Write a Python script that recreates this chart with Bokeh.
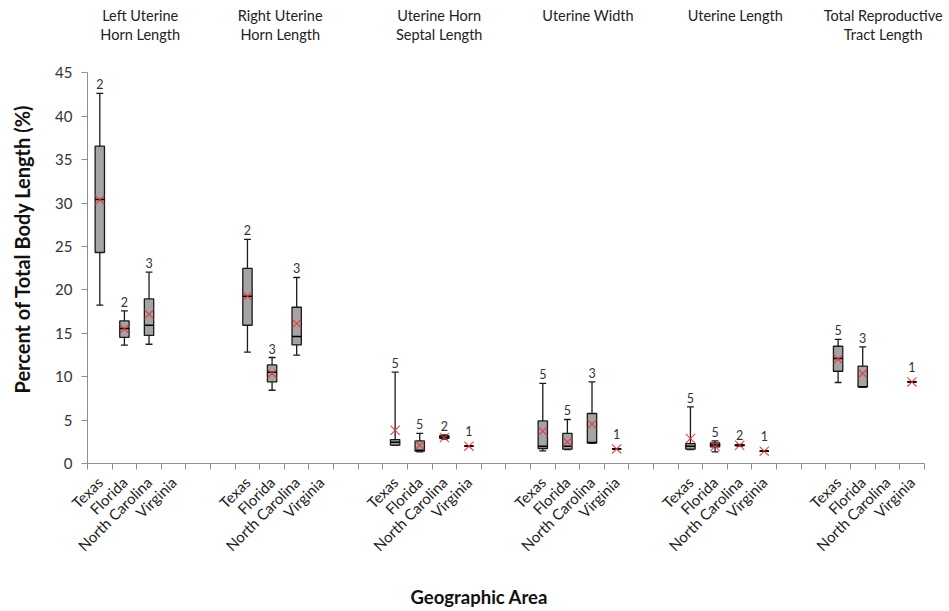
import math
from bokeh.plotting import figure
from bokeh.models import ColumnDataSource, FixedTicker, Label, LabelSet, Title
from bokeh.core.properties import value
from bokeh.embed import file_html
from bokeh.resources import INLINE

nan = float("nan")

regions = ["Texas", "Florida", "North Carolina", "Virginia"]
measure_line1 = ["Left Uterine", "Right Uterine", "Uterine Horn",
                 "Uterine Width", "Uterine Length", "Total Reproductive"]
measure_line2 = ["Horn Length", "Horn Length", "Septal Length",
                 "", "", "Tract Length"]

whisker_low = [
    [18.24, 13.63, 13.74, nan],
    [12.82, 8.44, 12.48, nan],
    [2.10, 1.35, 2.80, 2.00],
    [1.45, 1.60, 2.35, 1.68],
    [1.60, 1.34, 2.00, 1.42],
    [9.33, 8.80, nan, 9.40],
]
q1 = [
    [24.31, 14.52, 14.75, nan],
    [15.93, 9.40, 13.66, nan],
    [2.11, 1.42, 2.90, 2.00],
    [1.73, 1.65, 2.37, 1.68],
    [1.65, 1.91, 2.05, 1.42],
    [10.63, 8.82, nan, 9.40],
]
median = [
    [30.41, 15.55, 15.93, nan],
    [19.27, 10.52, 14.63, nan],
    [2.45, 1.53, 3.05, 2.00],
    [1.99, 1.99, 2.40, 1.68],
    [1.99, 2.14, 2.10, 1.42],
    [12.10, 8.85, nan, 9.40],
]
q3 = [
    [36.56, 16.43, 18.96, nan],
    [22.47, 11.36, 18.00, nan],
    [2.76, 2.60, 3.20, 2.00],
    [4.91, 3.46, 5.76, 1.68],
    [2.30, 2.37, 2.15, 1.42],
    [13.51, 11.21, nan, 9.40],
]
whisker_high = [
    [42.63, 17.58, 22.04, nan],
    [25.81, 12.21, 21.43, nan],
    [10.52, 3.46, 3.30, 2.00],
    [9.22, 5.07, 9.40, 1.68],
    [6.52, 2.60, 2.20, 1.42],
    [14.29, 13.43, nan, 9.40],
]
mean = [
    [30.35, 15.50, 17.20, nan],
    [19.27, 10.37, 16.13, nan],
    [3.84, 2.11, 3.00, 2.00],
    [3.72, 2.49, 4.53, 1.68],
    [2.88, 1.99, 2.10, 1.42],
    [12.00, 10.37, nan, 9.40],
]
sample_n = [
    [2, 2, 3, 0],
    [2, 3, 3, 0],
    [5, 5, 2, 1],
    [5, 5, 3, 1],
    [5, 5, 2, 1],
    [5, 3, 0, 1],
]
y_ticks = [0, 5, 10, 15, 20, 25, 30, 35, 40, 45]

# ---------------- layout ----------------
FONT = "Lato"
GAP = 2
slots_per_group = len(regions) + GAP
n_slots = len(measure_line1) * slots_per_group - GAP

rows = dict(x=[], low=[], q1=[], med=[], q3=[], high=[], mean=[], n=[], yoff=[])
label_ticks = []
overrides = {}
for g in range(len(measure_line1)):
    for r, reg in enumerate(regions):
        x = g * slots_per_group + r + 0.5
        label_ticks.append(x)
        overrides[x] = reg
        if math.isnan(median[g][r]):
            continue
        rows["x"].append(x)
        rows["low"].append(whisker_low[g][r])
        rows["q1"].append(q1[g][r])
        rows["med"].append(median[g][r])
        rows["q3"].append(q3[g][r])
        rows["high"].append(whisker_high[g][r])
        rows["mean"].append(mean[g][r])
        rows["n"].append(str(sample_n[g][r]))
        rows["yoff"].append(10 if sample_n[g][r] == 1 else 4)

src = ColumnDataSource(rows)
box_w = 0.38
cap_w = 0.14
src.data["xl"] = [v - cap_w for v in rows["x"]]
src.data["xr"] = [v + cap_w for v in rows["x"]]
src.data["bl"] = [v - box_w / 2 for v in rows["x"]]
src.data["br"] = [v + box_w / 2 for v in rows["x"]]

W, H = 949, 611
LEFT, BOTTOM = 87, 148
SLOT_PX = 24.61
UNIT_PX = 8.68
x_end = (W - LEFT) / SLOT_PX
y_end = (H - BOTTOM) / UNIT_PX

p = figure(width=W, height=H, x_range=(0, x_end), y_range=(0, y_end),
           output_backend="svg", toolbar_location=None,
           min_border_left=LEFT, min_border_right=0,
           min_border_top=0, min_border_bottom=BOTTOM)
p.outline_line_color = None
p.xgrid.visible = False
p.ygrid.visible = False
p.background_fill_color = "white"
p.border_fill_color = "white"

AX = "#8f8f8f"
# x axis
xa = p.xaxis[0]
xa.bounds = (0, n_slots)
xa.ticker = FixedTicker(ticks=label_ticks, minor_ticks=list(range(0, n_slots + 1)))
xa.major_label_overrides = overrides
xa.major_label_orientation = math.pi / 4
xa.major_tick_line_color = None
xa.major_tick_out = 0
xa.major_tick_in = 0
xa.minor_tick_line_color = AX
xa.minor_tick_out = 6
xa.minor_tick_in = 0
xa.axis_line_color = AX
xa.major_label_text_font = FONT
xa.major_label_text_font_size = "15px"
xa.major_label_text_color = "#1e1e1e"
xa.major_label_standoff = 10

# y axis
ya = p.yaxis[0]
ya.ticker = FixedTicker(ticks=y_ticks)
ya.bounds = (0, 45)
ya.axis_line_color = AX
ya.major_tick_line_color = AX
ya.major_tick_out = 6
ya.major_tick_in = 0
ya.minor_tick_line_color = None
ya.major_label_text_font = FONT
ya.major_label_text_font_size = "15px"
ya.major_label_text_color = "#333333"
ya.major_label_standoff = 9

# boxes
LC = "#1a1a1a"
p.segment(x0="x", y0="low", x1="x", y1="high", source=src, line_color=LC, line_width=1.3)
p.segment(x0="xl", y0="low", x1="xr", y1="low", source=src, line_color=LC, line_width=1.3)
p.segment(x0="xl", y0="high", x1="xr", y1="high", source=src, line_color=LC, line_width=1.3)
p.vbar(x="x", width=box_w, bottom="q1", top="q3", source=src,
       fill_color="#a4a4a4", line_color=LC, line_width=1.3)
p.segment(x0="bl", y0="med", x1="br", y1="med", source=src, line_color="black", line_width=1.6)
p.scatter(x="x", y="mean", source=src, marker="x", size=13,
          line_color="#e8303a", line_width=1.1, line_alpha=0.9)

p.add_layout(LabelSet(x="x", y="high", text="n", source=src, y_offset="yoff",
                      text_align="center", text_baseline="bottom",
                      text_font=value(FONT), text_font_size="12.5px", text_color="#333333"))

# group titles
title_nudge = [0.14, -0.17, 0.29, 0.34, 0.32, 0.33]
for g in range(len(measure_line1)):
    cx = g * slots_per_group + 2 + title_nudge[g]
    for txt, py in ((measure_line1[g], 14.5), (measure_line2[g], 34.0)):
        if txt:
            p.add_layout(Label(x=cx, y=(H - BOTTOM - py) / UNIT_PX, text=txt,
                               text_align="center", text_baseline="middle",
                               text_font=FONT, text_font_size="14.5px",
                               text_color="#222222"))

# axis titles (spacer panels push them outward)
p.add_layout(Title(text=" ", text_font_size="1px", standoff=17), "below")
p.add_layout(Title(text="Geographic Area", align="left", offset=410 - LEFT,
                   standoff=0, text_font=FONT, text_font_style="bold",
                   text_font_size="18.5px", text_color="#111111"), "below")
p.add_layout(Title(text=" ", text_font_size="1px", standoff=16), "left")
p.add_layout(Title(text="Percent of Total Body Length (%)", align="left",
                   offset=(H - BOTTOM) - 393, standoff=0, text_font=FONT,
                   text_font_style="bold", text_font_size="20px",
                   text_color="#111111"), "left")

open("out.html", "w").write(file_html(p, INLINE))
